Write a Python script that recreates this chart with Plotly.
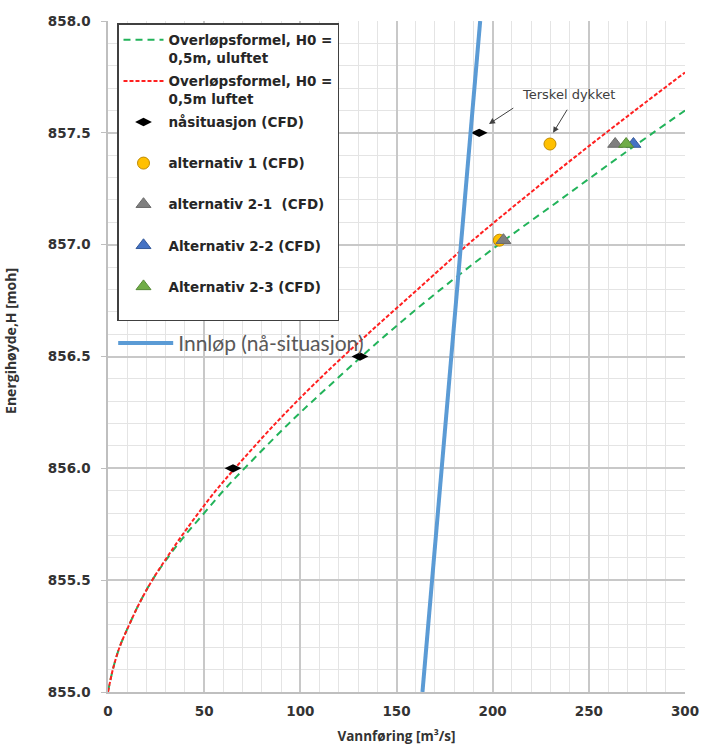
import plotly.graph_objects as go

# Weir-formula curves: energy head H [moh] vs discharge Q [m3/s]
h_uluftet = [855.0, 855.1, 855.2, 855.3, 855.4, 855.5, 855.6, 855.7, 855.8, 855.9,
             856.0, 856.2, 856.4, 856.6, 856.8, 857.0, 857.2, 857.4, 857.6]
q_uluftet = [0, 2.5, 6, 11, 16.5, 23, 31, 40, 50, 60,
             71, 94, 119, 145, 173, 203, 235, 267, 300]

h_luftet = [855.0, 855.1, 855.2, 855.3, 855.4, 855.5, 855.6, 855.7, 855.8, 855.9,
            856.0, 856.2, 856.4, 856.6, 856.8, 857.0, 857.2, 857.4, 857.6, 857.77]
q_luftet = [0, 2.5, 6, 11, 16.5, 23, 30.5, 38.5, 47, 56,
            66, 87, 110, 135, 161, 187, 215, 244, 274, 300]

# CFD results
q_naa = [65, 131, 193]
h_naa = [856.0, 856.5, 857.5]
q_alt1 = [203.5, 229.8]
h_alt1 = [857.02, 857.45]
q_alt21 = [205.6, 263.7]
h_alt21 = [857.02, 857.45]
q_alt22 = [273.2]
h_alt22 = [857.45]
q_alt23 = [269.4]
h_alt23 = [857.45]

# Inlet capacity (present situation)
q_innlop = [163.5, 193.5]
h_innlop = [855.0, 858.0]

LEG_FONT = dict(family="DejaVu Sans", size=13.5, color="#262626", weight="bold")

fig = go.Figure()

fig.add_trace(go.Scatter(
    x=q_uluftet, y=h_uluftet, mode="lines", line_shape="spline",
    name="Overløpsformel, H0 =<br>0,5m, uluftet", legendgroup="g1",
    line=dict(color="#22B35A", width=2, dash="7px,5px")))
fig.add_trace(go.Scatter(
    x=q_luftet, y=h_luftet, mode="lines", line_shape="spline",
    name="Overløpsformel, H0 =<br>0,5m luftet", legendgroup="g2",
    line=dict(color="#FF2020", width=2, dash="4px,2px")))
fig.add_trace(go.Scatter(
    x=q_naa, y=h_naa, mode="markers", name="nåsituasjon (CFD)<br> ", legendgroup="g3",
    marker=dict(symbol="diamond-wide", size=12, color="black")))
fig.add_trace(go.Scatter(
    x=q_alt1, y=h_alt1, mode="markers", name="alternativ 1 (CFD)<br> ", legendgroup="g4",
    marker=dict(symbol="circle", size=12, color="#FFC000",
                line=dict(color="#C08A00", width=1))))
fig.add_trace(go.Scatter(
    x=q_alt21, y=h_alt21, mode="markers", name="alternativ 2-1  (CFD)<br> ", legendgroup="g5",
    marker=dict(symbol="triangle-up", size=13, color="#7F7F7F",
                line=dict(color="#6A6A6A", width=1))))
fig.add_trace(go.Scatter(
    x=q_alt22, y=h_alt22, mode="markers", name="Alternativ 2-2 (CFD)<br> ", legendgroup="g6",
    marker=dict(symbol="triangle-up", size=13, color="#4472C4",
                line=dict(color="#35599A", width=1))))
fig.add_trace(go.Scatter(
    x=q_alt23, y=h_alt23, mode="markers", name="Alternativ 2-3 (CFD)<br> ", legendgroup="g7",
    marker=dict(symbol="triangle-up", size=13, color="#70AD47",
                line=dict(color="#558A35", width=1))))
fig.add_trace(go.Scatter(
    x=q_innlop, y=h_innlop, mode="lines", name="Innløp (nå-situasjon)",
    legend="legend2", line=dict(color="#5B9BD5", width=4)))

# "Terskel dykket" label with two arrows
fig.add_annotation(x=239.5, y=857.67, text="Terskel dykket", showarrow=False,
                   font=dict(family="DejaVu Sans", size=13, color="#404040"))
for hx, hy, tx, ty in [(198.1, 857.54, 211.5, 857.615), (231.4, 857.50, 239.2, 857.61)]:
    fig.add_annotation(x=hx, y=hy, ax=tx, ay=ty, axref="x", ayref="y", text="",
                       showarrow=True, arrowhead=2, arrowsize=1.2, arrowwidth=1,
                       arrowcolor="#404040")

# y-axis title
fig.add_annotation(xref="paper", yref="paper", x=-0.19, y=0.523, textangle=-90,
                   text="Energihøyde,H [moh]", showarrow=False,
                   font=dict(family="Open Sans", size=14, color="#333333", weight="bold"))

TICK_FONT = dict(family="DejaVu Sans", size=13.5, color="#333333", weight="bold")

fig.update_layout(
    width=702, height=745,
    margin=dict(l=108, r=17, t=21, b=53),
    paper_bgcolor="white", plot_bgcolor="white",
    showlegend=True,
    legend=dict(x=0.0156, y=0.997, xanchor="left", yanchor="top",
                bgcolor="white", bordercolor="#404040", borderwidth=1.5,
                font=LEG_FONT, tracegroupgap=3, itemwidth=40, valign="top",
                traceorder="grouped", entrywidth=180, entrywidthmode="pixels"),
    legend2=dict(x=0.009, y=0.55, xanchor="left", yanchor="top",
                 bgcolor="rgba(0,0,0,0)", borderwidth=0, itemwidth=55,
                 font=dict(family="Lato", size=21, color="#595959")),
    xaxis=dict(range=[0, 300], dtick=50, tick0=0, automargin=False,
               showgrid=True, gridcolor="#C8C8C8", gridwidth=1.5,
               minor=dict(dtick=10, showgrid=True, gridcolor="#E4E4E4", gridwidth=1),
               showline=True, linecolor="#BFBFBF", linewidth=1.5,
               zeroline=False, ticks="", tickfont=TICK_FONT, ticklabelstandoff=6,
               title=dict(text="Vannføring [m³/s]", standoff=28,
                          font=dict(family="Open Sans", size=13.5, color="#333333",
                                    weight="bold"))),
    yaxis=dict(range=[855, 858], dtick=0.5, tick0=855, tickformat=".1f", automargin=False,
               showgrid=True, gridcolor="#C8C8C8", gridwidth=1.5,
               minor=dict(dtick=0.1, showgrid=True, gridcolor="#E4E4E4", gridwidth=1),
               showline=True, linecolor="#BFBFBF", linewidth=1.5,
               zeroline=False, ticks="outside", ticklen=5, tickcolor="#BFBFBF",
               tickfont=TICK_FONT, ticklabelstandoff=8),
)

fig.write_html("out.html")
